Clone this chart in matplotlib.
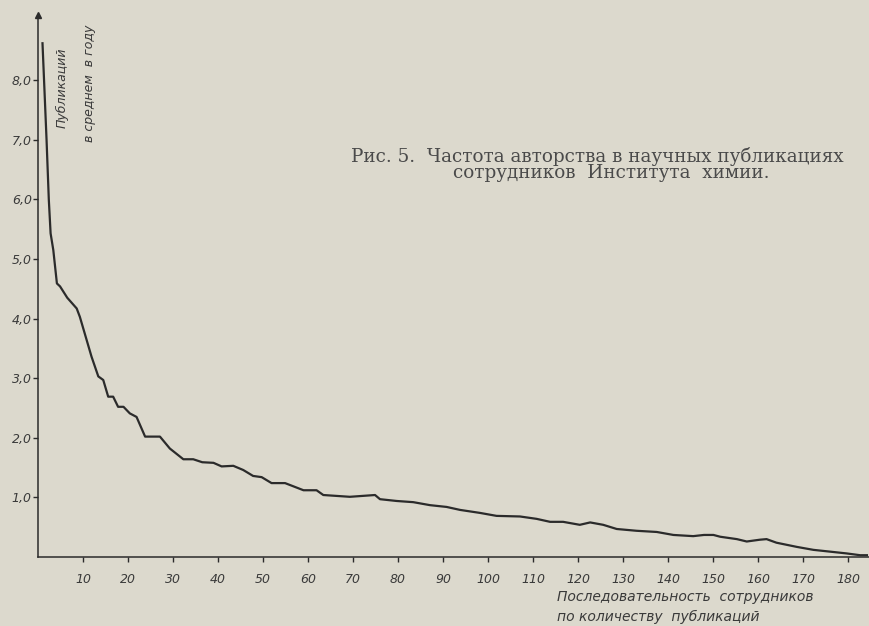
import matplotlib
matplotlib.use("Agg")
import matplotlib.pyplot as plt

# rank of employee vs. mean publications per year
rank = [1, 1.9, 2.4, 2.8, 3.4, 4.2, 4.9, 6.5, 8.6, 9.3, 11.9, 13.4, 14.5, 15.6,
        16.7, 17.8, 19.0, 20.4, 21.9, 23.8, 27.1, 29.3, 32.3, 34.5, 36.5, 39.0,
        40.8, 43.4, 45.6, 47.8, 49.7, 51.9, 54.9, 59.0, 61.9, 63.4, 69.3, 74.9,
        76.0, 79.7, 83.4, 87.1, 90.8, 93.8, 98.2, 101.9, 107.1, 110.8, 113.8,
        116.7, 120.4, 122.7, 125.6, 128.6, 133.0, 137.5, 141.2, 145.6, 148.0,
        150.1, 151.6, 155.3, 157.5, 160.4, 161.9, 164.1, 168.6, 172.3, 176.0,
        179.7, 182.7, 184.2]
pubs = [8.62, 7.0, 6.0, 5.43, 5.15, 4.59, 4.54, 4.35, 4.17, 4.03, 3.36, 3.03,
        2.97, 2.69, 2.69, 2.52, 2.52, 2.41, 2.35, 2.02, 2.02, 1.82, 1.64, 1.64,
        1.59, 1.58, 1.52, 1.53, 1.46, 1.36, 1.34, 1.24, 1.24, 1.12, 1.12, 1.04,
        1.01, 1.04, 0.97, 0.94, 0.92, 0.87, 0.84, 0.79, 0.74, 0.69, 0.68, 0.64,
        0.59, 0.59, 0.54, 0.58, 0.54, 0.47, 0.44, 0.42, 0.37, 0.35, 0.37, 0.37,
        0.34, 0.30, 0.26, 0.29, 0.30, 0.24, 0.17, 0.12, 0.09, 0.06, 0.03, 0.03]

xticks = list(range(10, 190, 10))
yticks = [1, 2, 3, 4, 5, 6, 7, 8]
ylabels = ["1,0", "2,0", "3,0", "4,0", "5,0", "6,0", "7,0", "8,0"]

paper = "#dcd9cd"
ink = "#2b2b2b"
grey = "#3a3a3a"

fig = plt.figure(figsize=(8.7, 6.26), dpi=100, facecolor=paper)
ax = fig.add_axes([38/870, 69/626, 832/870, 542/626])
ax.set_facecolor(paper)

ax.plot(rank, pubs, color=ink, lw=1.6)

ax.set_xlim(0, 832/4.5)
ax.set_ylim(0, 542/59.6)
for s in ["top", "right"]:
    ax.spines[s].set_visible(False)
for s in ["left", "bottom"]:
    ax.spines[s].set_color(ink)
    ax.spines[s].set_linewidth(1.1)

ax.set_xticks(xticks)
ax.set_xticklabels([str(t) for t in xticks], fontsize=9, style="italic",
                   color=grey)
ax.set_yticks(yticks)
ax.set_yticklabels(ylabels, fontsize=9, style="italic", color=grey)
ax.tick_params(axis="both", direction="out", length=3.5, width=1, color=ink)
ax.tick_params(axis="x", pad=8)
ax.tick_params(axis="y", pad=1)

# arrow on top of the y axis
ax.plot(0, 1, marker="^", color=ink, markersize=4, transform=ax.transAxes,
        clip_on=False)

# vertical axis caption
fig.text(62/870, 1 - 88/626, "Публикаций", rotation=90, ha="center",
         va="center", fontsize=9, style="italic", color=grey)
fig.text(90/870, 1 - 83/626, "в среднем  в году", rotation=90, ha="center",
         va="center", fontsize=9, style="italic", color=grey)

# horizontal axis caption
fig.text(557/870, 1 - 597/626, "Последовательность  сотрудников",
         ha="left", va="center", fontsize=10, style="italic", color=grey)
fig.text(557/870, 1 - 617/626, "по количеству  публикаций",
         ha="left", va="center", fontsize=10, style="italic", color=grey)

# figure caption
fig.text(351/870, 1 - 156/626, "Рис. 5.  Частота авторства в научных публикациях",
         ha="left", va="center", fontsize=13.2, family="DejaVu Serif",
         color="#4a4a4a")
fig.text(453/870, 1 - 173/626, "сотрудников  Института  химии.",
         ha="left", va="center", fontsize=13.2, family="DejaVu Serif",
         color="#4a4a4a")

fig.savefig("out.png", dpi=100, facecolor=paper)
